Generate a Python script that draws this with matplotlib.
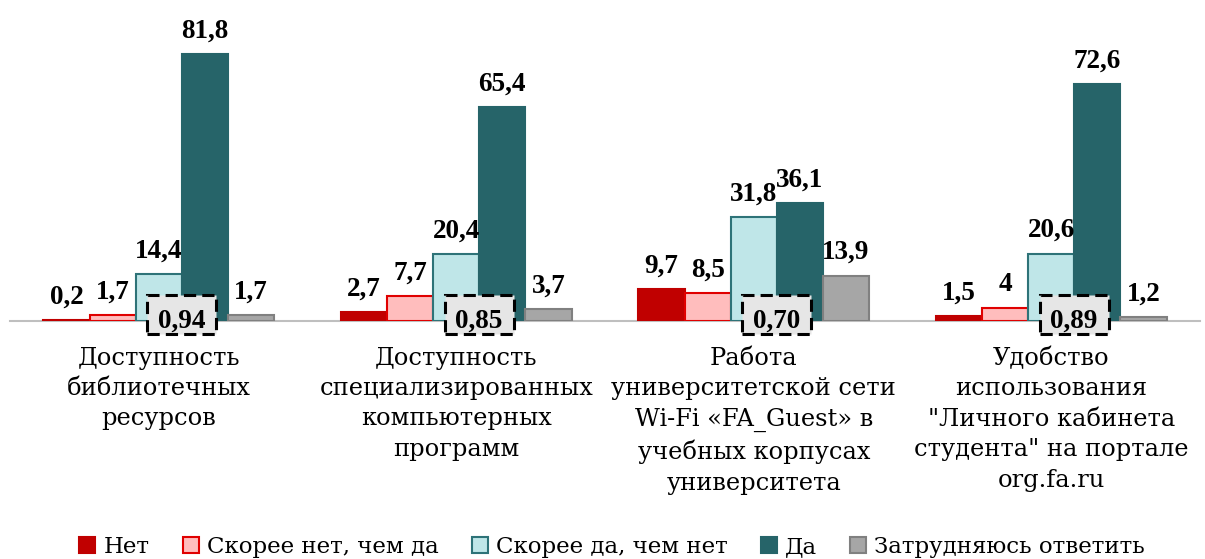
import matplotlib
matplotlib.use("Agg")
import matplotlib.pyplot as plt
import numpy as np
from matplotlib.patches import Patch, Rectangle

categories = [
    "Доступность\nбиблиотечных\nресурсов",
    "Доступность\nспециализированных\nкомпьютерных\nпрограмм",
    "Работа\nуниверситетской сети\nWi-Fi «FA_Guest» в\nучебных корпусах\nуниверситета",
    "Удобство\nиспользования\n\"Личного кабинета\nстудента\" на портале\norg.fa.ru",
]
series_names = ["Нет", "Скорее нет, чем да", "Скорее да, чем нет", "Да", "Затрудняюсь ответить"]
net = [0.2, 2.7, 9.7, 1.5]
skoree_net = [1.7, 7.7, 8.5, 4]
skoree_da = [14.4, 20.4, 31.8, 20.6]
da = [81.8, 65.4, 36.1, 72.6]
zatr = [1.7, 3.7, 13.9, 1.2]
value_labels = [
    ["0,2", "2,7", "9,7", "1,5"],
    ["1,7", "7,7", "8,5", "4"],
    ["14,4", "20,4", "31,8", "20,6"],
    ["81,8", "65,4", "36,1", "72,6"],
    ["1,7", "3,7", "13,9", "1,2"],
]
index_labels = ["0,94", "0,85", "0,70", "0,89"]

series = [net, skoree_net, skoree_da, da, zatr]
faces = ["#C00000", "#FFBDBD", "#BFE6E8", "#266469", "#A6A6A6"]
edges = ["#C00000", "#E00000", "#2E7378", "#266469", "#808080"]

W, H = 1205, 559
fig = plt.figure(figsize=(W / 100, H / 100), dpi=100)
ax = fig.add_axes([10 / W, (H - 321) / H, 1190 / W, 321 / H])

x = np.arange(len(categories))
bw = 0.155
num_font = "Liberation Serif"
txt_font = "DejaVu Serif"

for k, (vals, fc, ec) in enumerate(zip(series, faces, edges)):
    pos = x + (k - 2) * bw
    ax.bar(pos, vals, width=bw, color=fc, edgecolor=ec, linewidth=1.5, zorder=2)
    for p, v, lab in zip(pos, vals, value_labels[k]):
        ax.annotate(lab, (p, v), xytext=(0, 12), textcoords="offset points",
                    ha="center", va="baseline", fontsize=19.5, fontweight="bold",
                    family=num_font, zorder=5)

# index boxes
box_off = 0.077
box_w = 0.232
for i, lab in enumerate(index_labels):
    cx = x[i] + box_off
    rect = Rectangle((cx - box_w / 2, -4.0), box_w, 12.0, facecolor="#E6E6E6",
                     edgecolor="black", linewidth=2.2, linestyle=(0, (4, 2)),
                     clip_on=False, zorder=6)
    ax.add_patch(rect)
    ax.text(cx, 0.0, lab, ha="center", va="center", fontsize=19.5,
            fontweight="bold", family=num_font, zorder=7)

ax.set_xlim(-0.5, 3.5)
ax.set_ylim(0, 98.3)
for s in ["top", "right", "left"]:
    ax.spines[s].set_visible(False)
ax.spines["bottom"].set_color("#BFBFBF")
ax.spines["bottom"].set_linewidth(1.5)
ax.spines["bottom"].set_zorder(1)
ax.set_yticks([])
ax.set_xticks(x)
ax.set_xticklabels(categories, fontsize=17.4, family=txt_font, linespacing=1.41,
                   va="top")
ax.tick_params(axis="x", length=0, pad=18.5)

handles = [Patch(facecolor=fc, edgecolor=ec, linewidth=1.5) for fc, ec in zip(faces, edges)]
leg = fig.legend(handles, series_names, loc="center", bbox_to_anchor=(0.508, 1 - 547 / H),
                 ncol=5, frameon=False, prop={"family": txt_font, "size": 16.5},
                 handlelength=0.7, handleheight=0.7, handletextpad=0.35,
                 columnspacing=1.45, borderaxespad=0)

fig.savefig("out.png", dpi=100)
